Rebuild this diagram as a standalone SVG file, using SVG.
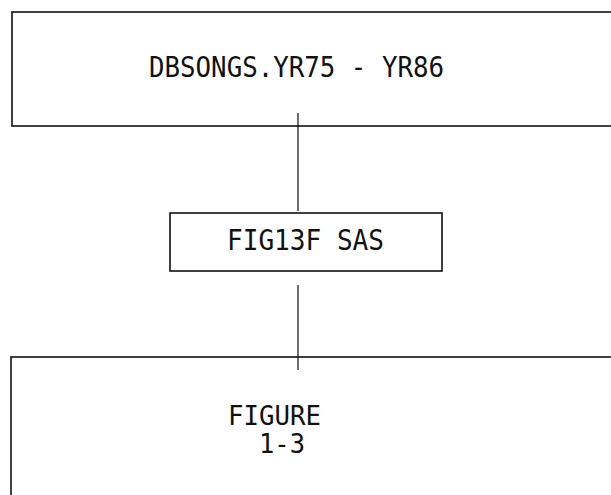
<svg xmlns="http://www.w3.org/2000/svg" width="611" height="495" viewBox="0 0 611 495">
<style>
.box{fill:none;stroke:#111;stroke-width:1.6}
.ln{stroke:#222;stroke-width:1.3;fill:none}
.t{font-family:"DejaVu Sans Mono","Liberation Mono",monospace;font-size:29px;fill:#111}
.s{font-size:26px}
</style>
<rect width="611" height="495" fill="#fff"/>
<g id="connectors">
<line class="ln" x1="298" y1="113" x2="298" y2="211"/>
<line class="ln" x1="298" y1="285" x2="298" y2="370"/>
</g>
<g id="dbsongs">
<rect class="box" x="12" y="12" width="620" height="114"/>
<text class="t" x="149" y="77" textLength="295" lengthAdjust="spacingAndGlyphs">DBSONGS.YR75 - YR86</text>
</g>
<g id="fig13f">
<rect class="box" x="170" y="213" width="272" height="58"/>
<text class="t" x="227" y="250" textLength="157" lengthAdjust="spacingAndGlyphs">FIG13F SAS</text>
</g>
<g id="figure">
<rect class="box" x="11" y="357" width="620" height="160"/>
<text class="t s" x="228" y="425" textLength="93" lengthAdjust="spacingAndGlyphs">FIGURE</text>
<text class="t s" x="259" y="453" textLength="46" lengthAdjust="spacingAndGlyphs">1-3</text>
</g>
</svg>
